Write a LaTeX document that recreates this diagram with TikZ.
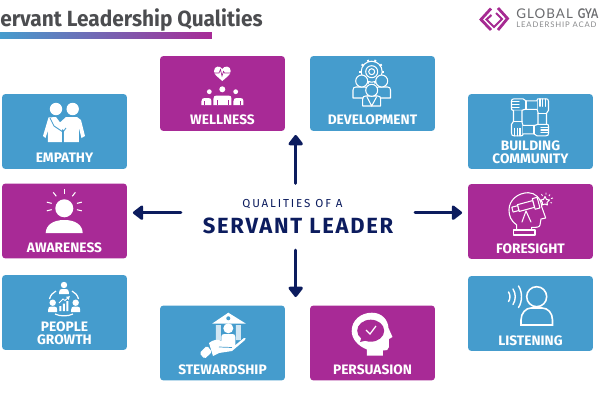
\documentclass[tikz,border=0pt]{standalone}
\usepackage{fontspec}
\setmainfont{Fira Sans}
\newfontfamily\logofont{Lato}
\usetikzlibrary{arrows.meta,positioning,calc}
\definecolor{boxblue}{HTML}{459CCD}
\definecolor{boxpurple}{HTML}{A82A96}
\definecolor{leadernavy}{HTML}{0C1C5E}
\definecolor{titlegrey}{HTML}{4C4D50}
\definecolor{barmid}{HTML}{5F58B4}
\definecolor{logopurple}{HTML}{A62A92}
\definecolor{logogrey}{HTML}{6A6B6E}
\tikzset{
  qualitybox/.style={rectangle,rounded corners=2pt,minimum width=2.5cm,minimum height=1.5cm,inner sep=0pt},
  bluebox/.style={qualitybox,fill=boxblue},
  purplebox/.style={qualitybox,fill=boxpurple},
  qualitylabel/.style={text=white,font=\fontsize{7.8}{7.3}\selectfont\bfseries,align=center,inner sep=0pt,yshift=-0.5pt},
  iconfill/.style={fill=white},
  iconline/.style={draw=white,line width=0.6pt,line join=round,line cap=round},
  outwardarrow/.style={draw=leadernavy,line width=1.7pt,line cap=round,-{Triangle[length=6.4pt,width=9.4pt,round]}}
}
\newcommand{\busticon}[5]{\path[#1] (#2-#4,#5) -- (#2-#4,#3+3) .. controls (#2-#4,#3+1) and (#2-#4+1,#3) .. (#2-#4+3,#3) -- (#2+#4-3,#3) .. controls (#2+#4-1,#3) and (#2+#4,#3+1) .. (#2+#4,#3+3) -- (#2+#4,#5) -- cycle;}
\begin{document}
\begin{tikzpicture}[x=0.02cm,y=-0.02cm]
  \useasboundingbox (0,0) rectangle (600,400);

  % Title and bar
  \node[anchor=west,inner sep=0pt,text=titlegrey,font=\fontsize{12.5}{14}\selectfont\bfseries\addfontfeatures{FakeStretch=0.95}] (pagetitle) at (0,20) {ervant Leadership Qualities};
  \shade[left color=boxblue,middle color=barmid,right color=boxpurple] (0,32) rectangle (212,38);

  % Logo
  \draw[logopurple,line width=1.6pt,line join=miter] (491,8.5) -- (481,19.5) -- (491,30);
  \draw[logopurple,line width=1.6pt,line join=miter] (498,8) -- (507.5,18.5) -- (498,30);
  \draw[logopurple,line width=1.2pt,line join=miter] (491.5,15) -- (486.5,19.5) -- (494,27) -- (502,19) -- (496,13);
  \node[anchor=west,inner sep=0pt,text=logogrey,font=\logofont\fontsize{7.6}{9}\selectfont\addfontfeatures{LetterSpace=8}] (logoname) at (516,14) {GLOBAL};
  \node[anchor=west,inner sep=0pt,text=logogrey,font=\logofont\fontsize{7.6}{9}\selectfont\bfseries\addfontfeatures{FakeStretch=0.78}] (logogya) at (577.5,14) {GYA};
  \node[anchor=west,inner sep=0pt,text=logogrey!80,font=\logofont\fontsize{4.4}{5}\selectfont\addfontfeatures{LetterSpace=11}] (logosub) at (516,24.5) {LEADERSHIP ACAD};

  % Boxes
  \node[purplebox] (wellness) at (222.5,93.5) {};
  \node[bluebox] (development) at (372.5,93.5) {};
  \node[bluebox] (empathy) at (64.5,131.5) {};
  \node[purplebox] (awareness) at (64.5,221) {};
  \node[bluebox] (peoplegrowth) at (64.5,312.5) {};
  \node[bluebox] (stewardship) at (222.5,343) {};
  \node[purplebox] (persuasion) at (372.5,343) {};
  \node[bluebox] (community) at (530.5,131.5) {};
  \node[purplebox] (foresight) at (530.5,221.5) {};
  \node[bluebox] (listening) at (530.5,313.5) {};

  % Box labels
  \node[qualitylabel] (wellnesstext) at (222.5,119) {WELLNESS};
  \node[qualitylabel] (developmenttext) at (372.5,119) {DEVELOPMENT};
  \node[qualitylabel] (empathytext) at (64.5,157) {EMPATHY};
  \node[qualitylabel] (awarenesstext) at (64.5,246.5) {AWARENESS};
  \node[qualitylabel] (growthtext) at (64.5,332.5) {PEOPLE\\GROWTH};
  \node[qualitylabel] (stewardshiptext) at (222.5,368.5) {STEWARDSHIP};
  \node[qualitylabel] (persuasiontext) at (372.5,369) {PERSUASION};
  \node[qualitylabel] (communitytext) at (530.5,151.5) {BUILDING\\COMMUNITY};
  \node[qualitylabel] (foresighttext) at (530.5,247.5) {FORESIGHT};
  \node[qualitylabel] (listeningtext) at (530.5,339.5) {LISTENING};

  % Centre text
  \node[inner sep=0pt,text=leadernavy,font=\fontsize{6.6}{8}\selectfont\addfontfeatures{LetterSpace=16}] (qualitiesof) at (292.5,204) {QUALITIES OF A};
  \node[inner sep=0pt,text=leadernavy,font=\fontsize{12.5}{14}\selectfont\bfseries\addfontfeatures{LetterSpace=8}] (servantleader) at (298,226) {SERVANT LEADER};

  % Arrows
  \coordinate (uptail) at (295.7,183.3);
  \coordinate (uptip) at (295.7,135);
  \coordinate (downtail) at (295.7,250);
  \coordinate (downtip) at (295.7,297);
  \coordinate (lefttail) at (181,212.7);
  \coordinate (righttail) at (415,212.7);
  \draw[outwardarrow] (uptail) -- (uptip);
  \draw[outwardarrow] (downtail) -- (downtip);
  \draw[outwardarrow,shorten >=3.2pt] (lefttail) -- (awareness.east |- lefttail);
  \draw[outwardarrow,shorten >=3.2pt] (righttail) -- (foresight.west |- righttail);

  % Wellness icon
  \fill[white] (222.3,81) .. controls (218,77) and (214,75) .. (214,71) .. controls (214,65.5) and (220.5,65.5) .. (222.3,69) .. controls (224,65.5) and (230.7,65.5) .. (230.7,71) .. controls (230.7,75) and (226.5,77) .. (222.3,81) -- cycle;
  \draw[boxpurple,line width=0.4pt] (214,73) -- (219,73) -- (220.5,69.5) -- (222,76) -- (223.5,71.5) -- (224.5,73) -- (231,73);
  \fill[white] (209.3,91.7) circle [radius=2.4];
  \fill[white] (222.3,89.3) circle [radius=3];
  \fill[white] (235.7,91.7) circle [radius=2.4];
  \busticon{iconfill}{206.5}{98}{5}{105}
  \busticon{iconfill}{238.5}{98}{5}{105}
  \busticon{iconfill}{222.5}{95.5}{9}{105}
  \draw[boxpurple,line width=0.4pt] (217,100) -- (217,105) (228,100) -- (228,105) (204.5,101) -- (204.5,105) (240.5,101) -- (240.5,105);

  % Development icon
  \foreach \ang in {0,36,...,324} {\draw[white,line width=1.1pt] (371.7,71.7) ++(\ang:10) -- ++(\ang:2.4);}
  \draw[iconline] (371.7,71.7) circle [radius=10.5];
  \draw[iconline] (371.7,71.7) circle [radius=6];
  \draw[iconline] (371.7,71.7) circle [radius=3];
  \busticon{iconline,fill=boxblue}{360.5}{87}{7.5}{98}
  \busticon{iconline,fill=boxblue}{383}{87}{7.5}{98}
  \draw[iconline,fill=boxblue] (361.7,81) circle [radius=6];
  \draw[iconline,fill=boxblue] (381.7,81) circle [radius=6];
  \busticon{iconline,fill=boxblue}{371.7}{96}{9}{106}
  \draw[iconline,fill=boxblue] (371.7,90.3) circle [radius=6];
  \draw[iconline] (367,97) -- (371.7,106) -- (376.5,97);

  % Empathy icon
  \fill[white] (56,109) circle [radius=6.2];
  \fill[white] (72.7,109) circle [radius=6.2];
  \fill[white] (48.5,117.5) -- (56,117) -- (62,125) -- (62,142) -- (48,142) -- (48,130) -- (45.5,138) -- (43,136) -- cycle;
  \fill[white] (66,117) -- (77,117) -- (81,120) -- (85,136) -- (81.5,138) -- (79,128) -- (79,142) -- (64,142) -- (64,130) -- (56,126) -- cycle;
  \draw[boxblue,line width=0.5pt] (50,118) -- (54,126) -- (63,132) (63,142) -- (63,132) -- (66,128);

  % Awareness icon
  \fill[white] (64.3,208.3) circle [radius=9];
  \fill[white] (45.7,233) .. controls (46,225) and (53,220) .. (64.3,220) .. controls (75.5,220) and (82.5,225) .. (82.7,233) -- cycle;
  \foreach \ang in {-90,-52,-128,-14,-166,14,166} {\draw[white,line width=0.6pt] (64.3,206.5) ++(\ang:13) -- ++(\ang:5);}

  % People growth icon
  \fill[white] (64,285) circle [radius=3.2];
  \busticon{iconfill}{64}{289}{4.8}{294}
  \fill[white] (52.7,302.7) circle [radius=3.2];
  \busticon{iconfill}{52.7}{306.5}{4.5}{312}
  \fill[white] (75.7,302.7) circle [radius=3.2];
  \busticon{iconfill}{75.7}{306.5}{4.5}{312}
  \draw[white,line width=0.7pt] (49.5,299) .. controls (50.5,295) and (53,292.5) .. (56,291);
  \draw[white,line width=0.7pt] (78.5,299) .. controls (77.5,295) and (75,292.5) .. (72,291);
  \draw[white,line width=0.7pt] (55,314) .. controls (60,316.5) and (68,316.5) .. (73,314);
  \fill[white] (59.5,306) rectangle (61.5,311) (63,303.5) rectangle (65,311) (66.5,301) rectangle (68.5,311);
  \draw[white,line width=0.5pt,-{Latex[length=2pt,width=2.5pt]}] (59,303) -- (63,299) -- (65,300.5) -- (70,296);

  % Stewardship icon
  \fill[white] (212.3,323.5) -- (228.3,312.7) -- (245.7,323.5) -- cycle;
  \fill[boxblue] (228.3,318.3) circle [radius=2];
  \fill[white!75!boxblue] (216,325) rectangle (221,340) (236,325) rectangle (241,340);
  \fill[white] (228.3,328.3) circle [radius=5];
  \busticon{iconfill}{228.3}{334}{7}{345}
  \fill[white] (209,343) .. controls (213,339.5) and (218,339) .. (222,341) -- (233,344) .. controls (236,345) and (236,347) .. (233,347) -- (244,338) .. controls (246,336.5) and (246,339) .. (245,340) -- (232,351) -- (219,353) -- (213,356) -- cycle;
  \fill[white,rounded corners=1pt] (199.5,353) -- (207,345.5) -- (212,352) -- (204.5,359) -- cycle;
  \draw[boxblue,line width=0.4pt] (219,347) -- (232,347.5);

  % Persuasion icon
  \fill[white] (367,355.5) -- (367,349.5) .. controls (358,346) and (351.7,339) .. (351.7,331) .. controls (351.7,320) and (361,312.7) .. (372,312.7) .. controls (382,312.7) and (388,320) .. (388.5,328) -- (392.5,337) -- (389,339) -- (389,347) .. controls (389,350) and (386,351) .. (383,350.5) -- (383,355.5) -- cycle;
  \fill[boxpurple] (370.7,330.7) ellipse [x radius=13.5,y radius=11];
  \fill[boxpurple] (362,336) -- (360,342) -- (368,340) -- cycle;
  \draw[white,line width=0.7pt] (366,330) -- (370,334) -- (376,326);

  % Building community icon
  \foreach \ang in {0,90,180,270} {
    \begin{scope}[shift={(530,117.3)},rotate=\ang]
      \draw[iconline,fill=boxblue] (8,7) -- (8,-5) -- (7,-8) -- (7,-17) .. controls (7,-18.5) and (8,-18.5) .. (9,-18.5) -- (16,-18.5) .. controls (17.5,-18.5) and (18.5,-18) .. (18.5,-16) -- (18.5,-7) -- (16.5,-4) -- (16.5,7);
      \draw[iconline] (10,-18.5) -- (10,-11) (12.7,-18.5) -- (12.7,-11) (15.4,-18.5) -- (15.4,-11);
      \draw[iconline] (8,-4) -- (16.5,-4);
    \end{scope}
  }

  % Foresight icon
  \draw[iconline] (516.7,230) -- (516.7,225) .. controls (511,221) and (509,216) .. (509,210) .. controls (509,200) and (518,192.7) .. (528.3,192.7) .. controls (535,192.7) and (541,198) .. (541.7,206.7) -- (545.7,218) -- (541,219) -- (540,225) .. controls (539.5,227.5) and (536,227.5) .. (531.7,227.3) -- (531.7,230);
  \draw[iconline] (513.3,230) rectangle (535,235);
  \begin{scope}[shift={(526,206)},rotate=15]
    \draw[iconline,fill=boxpurple] (-8,-3.5) rectangle (8,3.5);
    \draw[iconline,fill=boxpurple] (-14,-2.5) rectangle (-8,2.5);
    \draw[iconline,fill=boxpurple] (8,-5.5) rectangle (13,5.5);
  \end{scope}
  \draw[iconline] (522,222) -- (526,211) -- (531,222);
  \draw[iconline] (545,196.5) -- (546.5,199.5) -- (549.5,200) -- (547,202.5) -- (547.5,205) -- (545,204) -- (542,205) -- (542.5,202.5) -- (540.5,200) -- (543.5,199.5) -- cycle;
  \draw[white,line width=0.5pt] (541.5,194) -- (542.5,196) (546,192.5) -- (546,194.5) (550,194.5) -- (549,196) (553,198) -- (551,198.5) (552,203) -- (550.5,202.5);

  % Listening icon
  \draw[white,line width=0.9pt] (536.7,296.7) circle [radius=10];
  \draw[white,line width=0.9pt] (521,325) -- (521,320) .. controls (521,313) and (526,308) .. (531,308) -- (542,308) .. controls (548,308) and (552.5,313) .. (552.5,320) -- (552.5,325) -- cycle;
  \draw[white,line width=0.8pt,line cap=round] (508.5,292) .. controls (510.5,295) and (510.5,298.5) .. (508.5,301.5);
  \draw[white,line width=0.8pt,line cap=round] (513,289) .. controls (516,293.5) and (516,300) .. (513,304.5);
  \draw[white,line width=0.8pt,line cap=round] (518.5,286) .. controls (522.5,292) and (522.5,301.5) .. (518.5,307.5);

\end{tikzpicture}
\end{document}
